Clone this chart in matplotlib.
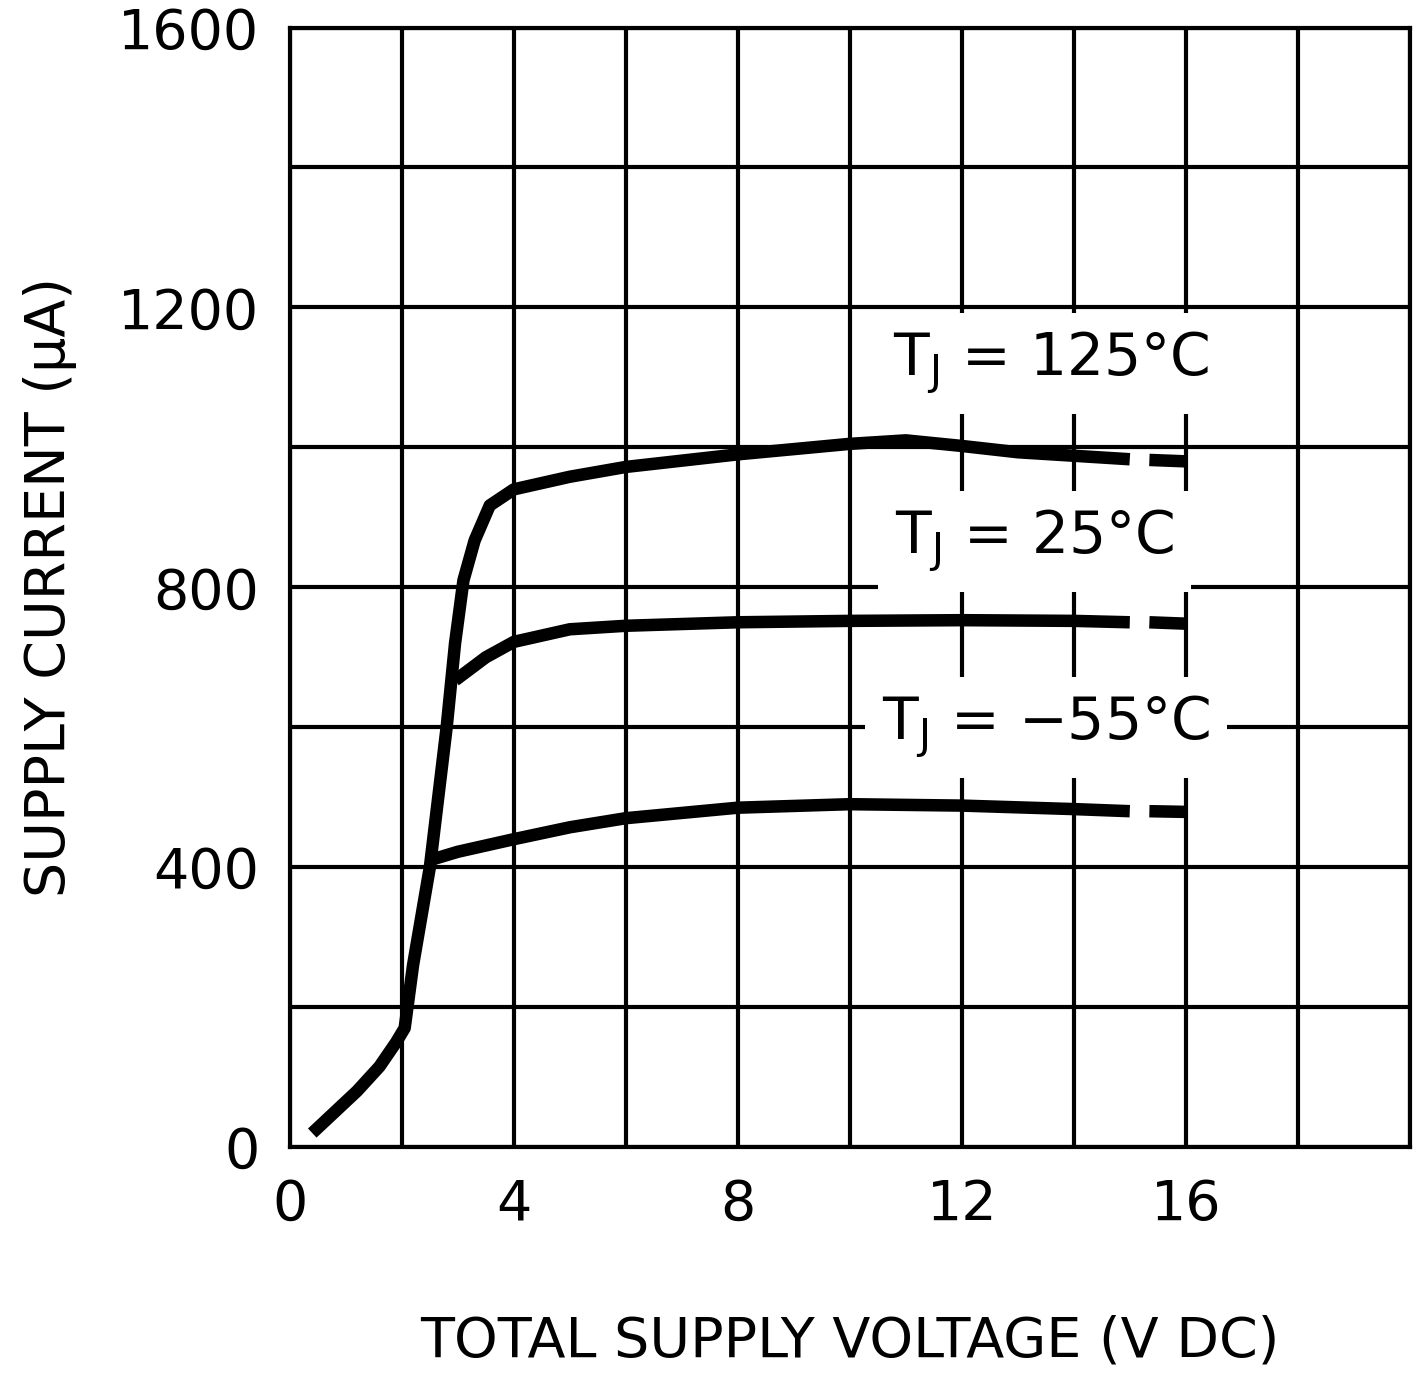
import matplotlib
matplotlib.use("Agg")
import matplotlib.pyplot as plt

plt.rcParams['font.family'] = ['DejaVu Sans']

# shared start-up segment
base_x = [0.4, 0.8, 1.2, 1.6, 1.9, 2.05]
base_y = [20, 50, 80, 115, 150, 170]

t125_x = base_x + [2.2, 2.5, 2.8, 2.95, 3.1, 3.3, 3.57, 4.0, 5.0, 6.0, 8.0, 10.0, 11.0, 12.0, 13.0, 14.0, 15.0]
t125_y = base_y + [260, 400, 600, 720, 810, 867, 917, 940, 958, 972, 990, 1005, 1010, 1002, 993, 988, 983]
t25_x = [2.95, 3.5, 4.0, 5.0, 6.0, 8.0, 10.0, 12.0, 14.0, 15.0]
t25_y = [667, 700, 722, 740, 745, 750, 752, 753, 752, 750]
t55_x = [2.5, 3.0, 4.0, 5.0, 6.0, 8.0, 10.0, 12.0, 14.0, 15.0]
t55_y = [410, 422, 440, 457, 470, 485, 490, 488, 483, 480]
dash_x = [15.35, 16.0]
dash125 = [982, 980]
dash25 = [750, 748]
dash55 = [480, 479]

fig = plt.figure(figsize=(14.14, 13.77), dpi=100)
ax = fig.add_axes([0.205, 0.167, 0.792, 0.813])
ax.set_xlim(0, 20)
ax.set_ylim(0, 1600)
ax.set_xticks(range(0, 21, 2))
ax.set_yticks(range(0, 1601, 200))
ax.grid(True, color='black', lw=3)
for s in ax.spines.values():
    s.set_linewidth(3)
ax.tick_params(length=0, labelsize=40, pad=22)
ax.set_xticklabels(['0', '', '4', '', '8', '', '12', '', '16', '', ''])
ax.set_yticklabels(['0', '', '400', '', '800', '', '1200', '', '1600'])
ax.set_axisbelow(True)

lw = 9
ax.plot(t125_x, t125_y, color='black', lw=lw, solid_capstyle='butt', zorder=3)
ax.plot(t25_x, t25_y, color='black', lw=lw, solid_capstyle='butt', zorder=3)
ax.plot(t55_x, t55_y, color='black', lw=lw, solid_capstyle='butt', zorder=3)
for d in (dash125, dash25, dash55):
    ax.plot(dash_x, d, color='black', lw=lw, solid_capstyle='butt', zorder=3)

bb = dict(facecolor='white', edgecolor='none', pad=12)
ax.text(13.6, 1120, r'T$_\mathregular{J}$ = 125°C', fontsize=42, ha='center', va='center', bbox=bb, zorder=4)
ax.text(13.3, 865, r'T$_\mathregular{J}$ = 25°C', fontsize=42, ha='center', va='center', bbox=bb, zorder=4)
ax.text(13.5, 600, r'T$_\mathregular{J}$ = −55°C', fontsize=42, ha='center', va='center', bbox=bb, zorder=4)

ax.set_xlabel('TOTAL SUPPLY VOLTAGE (V DC)', fontsize=40, labelpad=60)
ax.set_ylabel('SUPPLY CURRENT (μA)', fontsize=40, labelpad=30)
fig.savefig('out.png', dpi=100)
